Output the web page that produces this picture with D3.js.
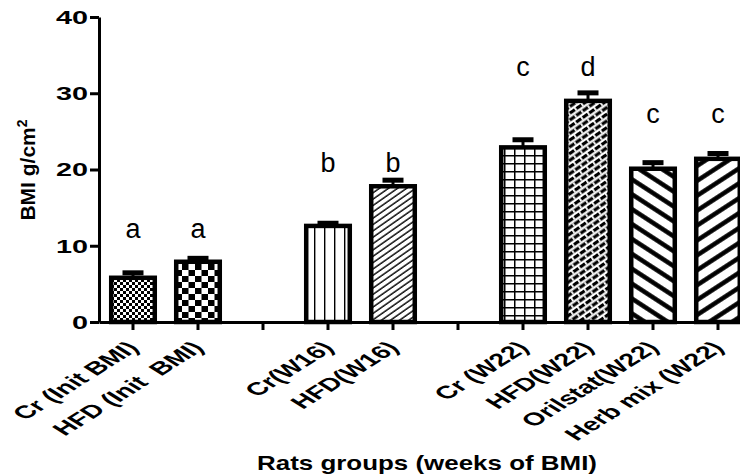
<!DOCTYPE html>
<html>
<head>
<meta charset="utf-8">
<script src="https://cdn.jsdelivr.net/npm/d3@7.9.0/dist/d3.min.js"></script>
<style>
  body { margin: 0; background: #fff; }
  svg { display: block; font-family: Arial, "Liberation Sans", Helvetica, sans-serif; }
  .tick text { white-space: pre; }
</style>
</head>
<body>
<svg id="chart" width="740" height="476"></svg>
<script>
// Groups in plot order (blank entries are the gaps between time points)
const groups = ['Cr (Init BMI)', 'HFD (Init  BMI)', '', 'Cr(W16)', 'HFD(W16)', '', 'Cr (W22)', 'HFD(W22)', 'Orilstat(W22)', 'Herb mix (W22)'];

// Mean BMI (g/cm2) per group
const means = [5.8, 7.9, null, 12.6, 17.8, null, 22.9, 29.0, 20.1, 21.4];

// Upper error (SEM)
const errors = [0.65, 0.45, null, 0.35, 0.8, null, 1.0, 1.05, 0.8, 0.7];

// Significance letters and the height (in BMI units) where they sit
const letters = ['a', 'a', '', 'b', 'b', '', 'c', 'd', 'c', 'c'];
const letterLevel = [11.0, 11.0, null, 19.7, 19.7, null, 32.3, 32.3, 26.1, 26.1];

// Fill pattern id for each bar
const fills = ['fineCheck', 'bigCheck', null, 'vlines', 'fineDiag', null, 'grid', 'weave', 'backStripe', 'fwdStripe'];

// Y ticks
const yTicks = [0, 10, 20, 30, 40];

const svg = d3.select('#chart');

// Scales
const x = d3.scaleBand()
  .domain(groups.map((d, i) => i))
  .range([99, 752])
  .paddingInner(0.33)
  .paddingOuter(0.188);

const y = d3.scaleLinear().domain([0, 40]).range([322, 17]);

// ---- patterns ----
const defs = svg.append('defs');

function makePattern(id, w, h, angle) {
  const p = defs.append('pattern')
    .attr('id', id)
    .attr('patternUnits', 'userSpaceOnUse')
    .attr('width', w)
    .attr('height', h);
  if (angle) p.attr('patternTransform', `rotate(${angle})`);
  p.append('rect').attr('width', w).attr('height', h).attr('fill', '#fff');
  return p;
}

let p = makePattern('fineCheck', 6, 6);
p.append('rect').attr('width', 3).attr('height', 3).attr('fill', '#000');
p.append('rect').attr('x', 3).attr('y', 3).attr('width', 3).attr('height', 3).attr('fill', '#000');

p = makePattern('bigCheck', 13, 12);
p.append('rect').attr('width', 6.5).attr('height', 6).attr('fill', '#000');
p.append('rect').attr('x', 6.5).attr('y', 6).attr('width', 6.5).attr('height', 6).attr('fill', '#000');

p = makePattern('vlines', 10, 10);
p.append('rect').attr('x', 4).attr('width', 1.4).attr('height', 10).attr('fill', '#000');

p = makePattern('fineDiag', 10, 5.2, -35);
p.append('rect').attr('y', 2).attr('width', 10).attr('height', 1.4).attr('fill', '#000');

p = makePattern('grid', 10, 8);
p.append('rect').attr('x', 4).attr('width', 1.5).attr('height', 8).attr('fill', '#000');
p.append('rect').attr('y', 3).attr('width', 10).attr('height', 1.5).attr('fill', '#000');

p = makePattern('weave', 8, 11, -35);
p.append('rect').attr('width', 8).attr('height', 3.2).attr('fill', '#000');
p.append('rect').attr('width', 1.8).attr('height', 3.2).attr('fill', '#fff');
p.append('rect').attr('y', 5.5).attr('width', 8).attr('height', 3.2).attr('fill', '#000');
p.append('rect').attr('x', 4).attr('y', 5.5).attr('width', 1.8).attr('height', 3.2).attr('fill', '#fff');

p = makePattern('backStripe', 20, 12.5, 33);
p.append('rect').attr('y', 4).attr('width', 20).attr('height', 4.5).attr('fill', '#000');

p = makePattern('fwdStripe', 20, 12.5, -33);
p.append('rect').attr('y', 4).attr('width', 20).attr('height', 4.5).attr('fill', '#000');

// ---- bars ----
const idx = d3.range(groups.length).filter(i => means[i] != null);

svg.append('g')
  .selectAll('rect')
  .data(idx)
  .join('rect')
  .attr('x', i => x(i))
  .attr('y', i => y(means[i]))
  .attr('width', x.bandwidth())
  .attr('height', i => y(0) - y(means[i]))
  .attr('fill', i => `url(#${fills[i]})`)
  .attr('stroke', '#000')
  .attr('stroke-width', 4.5);

// Error bars (upper only)
const errG = svg.append('g').attr('stroke', '#000');
idx.forEach(i => {
  const cx = x(i) + x.bandwidth() / 2;
  errG.append('line')
    .attr('x1', cx).attr('x2', cx)
    .attr('y1', y(means[i])).attr('y2', y(means[i] + errors[i]))
    .attr('stroke-width', 3);
  errG.append('line')
    .attr('x1', cx - 10.5).attr('x2', cx + 10.5)
    .attr('y1', y(means[i] + errors[i])).attr('y2', y(means[i] + errors[i]))
    .attr('stroke-width', 5);
});

// Significance letters
svg.append('g')
  .selectAll('text')
  .data(idx)
  .join('text')
  .attr('x', i => x(i) + x.bandwidth() / 2)
  .attr('y', i => y(letterLevel[i]))
  .attr('text-anchor', 'middle')
  .attr('font-size', 27)
  .text(i => letters[i]);

// ---- axes ----
const yAxis = svg.append('g')
  .attr('transform', 'translate(99,0)')
  .call(d3.axisLeft(y).tickValues(yTicks).tickSize(9).tickSizeOuter(0));

yAxis.select('.domain').attr('stroke-width', 3);
yAxis.selectAll('.tick line').attr('stroke-width', 3);
yAxis.selectAll('.tick text')
  .attr('x', null)
  .attr('dy', '0.36em')
  .attr('transform', 'translate(-11,0) scale(1.6,1)')
  .attr('font-size', 18)
  .attr('font-weight', 'bold')
  .attr('fill', '#000');

const xAxis = svg.append('g')
  .attr('transform', 'translate(0,322)')
  .call(d3.axisBottom(x).tickSize(8).tickSizeOuter(0).tickFormat(i => groups[i]));

xAxis.select('.domain').attr('stroke-width', 3);
xAxis.selectAll('.tick line').attr('stroke-width', 3);
xAxis.selectAll('.tick text')
  .attr('y', null)
  .attr('dy', null)
  .attr('text-anchor', 'end')
  .attr('transform', 'translate(7,27) scale(1.6,1) rotate(-45)')
  .attr('font-size', 18)
  .attr('font-weight', 'bold')
  .attr('fill', '#000');

// Axis titles
svg.append('text')
  .attr('transform', 'translate(35,170) rotate(-90)')
  .attr('text-anchor', 'middle')
  .attr('font-size', 21)
  .attr('font-weight', 'bold')
  .html('BMI g/cm<tspan dy="-8" font-size="14">2</tspan>');

svg.append('text')
  .attr('transform', 'translate(427,470) scale(1.33,1)')
  .attr('text-anchor', 'middle')
  .attr('font-size', 19.5)
  .attr('font-weight', 'bold')
  .text('Rats groups (weeks of BMI)');
</script>
</body>
</html>
